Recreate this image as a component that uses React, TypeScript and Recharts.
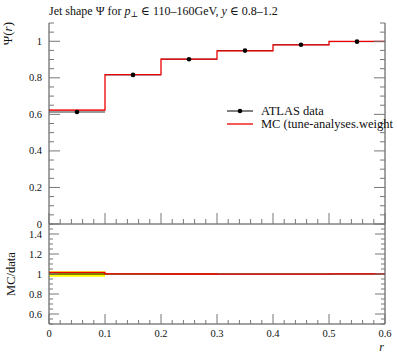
import { ComposedChart, Line, Area, Scatter, ErrorBar, XAxis, YAxis } from "recharts";

// bin edges in r, one jet-shape value per bin
const binEdges = [0, 0.1, 0.2, 0.3, 0.4, 0.5, 0.6];
const binCentres = [0.05, 0.15, 0.25, 0.35, 0.45, 0.55];
const dataValues = [0.613, 0.816, 0.902, 0.949, 0.981, 0.998];
const dataErrors = [0.008, 0.004, 0.003, 0.002, 0.002, 0.001];
const mcValues = [0.623, 0.818, 0.902, 0.948, 0.98, 0.999];
const mcErrors = [0.005, 0.002, 0.002, 0.002, 0.001, 0.001];
const ratioValues = [1.016, 1.002, 1.0, 0.999, 0.999, 1.001];
const ratioBand = [0.028, 0.005, 0.004, 0.003, 0.002, 0.002];

const xMajor = [0, 0.1, 0.2, 0.3, 0.4, 0.5, 0.6];
const mainMajor = [0, 0.2, 0.4, 0.6, 0.8, 1];
const ratioMajor = [0.6, 0.8, 1, 1.2, 1.4];

const W = 397;
const H = 358;
const FONT = "'Liberation Serif', 'DejaVu Serif', serif";
const FRAME = "#444";
const TICK = "#777";

const sub = (lo: number, hi: number, step: number) => {
  const out: number[] = [];
  for (let v = lo; v <= hi + 1e-9; v += step) out.push(Math.round(v * 1000) / 1000);
  return out;
};
const xTicks = sub(0, 0.6, 0.02);
const mainTicks = sub(0, 1.1, 0.05);
const ratioTicks = sub(0.5, 1.5, 0.05);

const isIn = (v: number, list: number[]) => list.some((m) => Math.abs(m - v) < 1e-6);
const fmt = (v: number) => String(Math.round(v * 10) / 10);

// step tables: last edge repeats last bin value
const edgeRows = binEdges.map((r, i) => {
  const k = Math.min(i, mcValues.length - 1);
  return {
    r,
    mc: mcValues[k],
    mcBand: [mcValues[k] - mcErrors[k], mcValues[k] + mcErrors[k]],
    ratio: ratioValues[k],
    one: 1,
    band: [1 - ratioBand[k], 1 + ratioBand[k]],
  };
});
const points = binCentres.map((r, i) => ({ r, y: dataValues[i], ex: 0.05, ey: dataErrors[i] }));

const makeTick =
  (side: "left" | "right" | "top" | "bottom", major: number[], big: number, small: number, labels: boolean) =>
  (p: any) => {
    const v = p.payload.value;
    const m = isIn(v, major);
    const len = m ? big : small;
    let line;
    if (side === "left") line = <line x1={p.x} y1={p.y} x2={p.x + len} y2={p.y} stroke={TICK} />;
    else if (side === "right") line = <line x1={p.x} y1={p.y} x2={p.x - len} y2={p.y} stroke={TICK} />;
    else if (side === "top") line = <line x1={p.x} y1={p.y} x2={p.x} y2={p.y + len} stroke={TICK} />;
    else line = <line x1={p.x} y1={p.y} x2={p.x} y2={p.y - len} stroke={TICK} />;
    return (
      <g>
        {line}
        {labels && m && side === "left" && (
          <text x={p.x - 7} y={p.y + 3.5} textAnchor="end" fontSize={10.5} fontFamily={FONT} fill="#111">
            {fmt(v)}
          </text>
        )}
        {labels && m && side === "bottom" && (
          <text x={p.x} y={p.y + 13} textAnchor="middle" fontSize={10.5} fontFamily={FONT} fill="#111">
            {fmt(v)}
          </text>
        )}
      </g>
    );
  };

const Dot = (p: any) => <circle cx={p.cx} cy={p.cy} r={2.3} fill="#000" />;

const axes = (yDomain: number[], yTicks: number[], yMajor: number[], big: number, small: number, xLabels: boolean) => [
  <XAxis key="xb" xAxisId="b" dataKey="r" type="number" domain={[0, 0.6]} ticks={xTicks} interval={0}
    height={20} tickSize={0} tickMargin={0} tickLine={false} axisLine={{ stroke: FRAME }}
    tick={makeTick("bottom", xMajor, big, small, xLabels)} allowDataOverflow />,
  <XAxis key="xt" xAxisId="t" orientation="top" dataKey="r" type="number" domain={[0, 0.6]} ticks={xTicks} interval={0}
    height={0} tickSize={0} tickMargin={0} tickLine={false} axisLine={{ stroke: FRAME }}
    tick={makeTick("top", xMajor, big, small, false)} allowDataOverflow />,
  <YAxis key="yl" yAxisId="l" type="number" domain={yDomain} ticks={yTicks} interval={0} width={49}
    tickSize={0} tickMargin={0} tickLine={false} axisLine={{ stroke: FRAME }}
    tick={makeTick("left", yMajor, big, small, true)} allowDataOverflow />,
  <YAxis key="yr" yAxisId="r" orientation="right" type="number" domain={yDomain} ticks={yTicks} interval={0} width={12}
    tickSize={0} tickMargin={0} tickLine={false} axisLine={{ stroke: FRAME }}
    tick={makeTick("right", yMajor, big, small, false)} allowDataOverflow />,
];

const abs = { position: "absolute" as const, left: 0, top: 0 };

export default function App() {
  return (
    <div style={{ position: "absolute", left: 0, top: 0, width: W, height: H, background: "#fff" }}>
      <div style={abs}>
        <ComposedChart width={W} height={H} data={edgeRows} margin={{ top: 23, right: 0, bottom: 114, left: 0 }}>
          {axes([0, 1.1], mainTicks, mainMajor, 11, 5, false)}
          <Area xAxisId="b" yAxisId="l" dataKey="mcBand" type="stepAfter" stroke="none" fill="#ff7777"
            fillOpacity={0.6} isAnimationActive={false} />
          <Scatter xAxisId="b" yAxisId="l" data={points} dataKey="y" shape={<Dot />} isAnimationActive={false}>
            <ErrorBar dataKey="ex" direction="x" width={0} stroke="#333" strokeWidth={1} />
            <ErrorBar dataKey="ey" direction="y" width={0} stroke="#000" strokeWidth={1} />
          </Scatter>
          <Line xAxisId="b" yAxisId="l" dataKey="mc" type="stepAfter" stroke="#ee0000" strokeWidth={1.3}
            dot={false} isAnimationActive={false} />
        </ComposedChart>
      </div>
      <div style={abs}>
        <ComposedChart width={W} height={H} data={edgeRows} margin={{ top: 224, right: 0, bottom: 14, left: 0 }}>
          {axes([0.5, 1.5], ratioTicks, ratioMajor, 10, 4, true)}
          <Area xAxisId="b" yAxisId="l" dataKey="band" type="stepAfter" stroke="none" fill="#ffff00"
            fillOpacity={1} isAnimationActive={false} />
          <Line xAxisId="b" yAxisId="l" dataKey="one" type="stepAfter" stroke="#000" strokeWidth={1}
            dot={false} isAnimationActive={false} />
          <Line xAxisId="b" yAxisId="l" dataKey="ratio" type="stepAfter" stroke="#ee0000" strokeWidth={1.3}
            dot={false} isAnimationActive={false} />
        </ComposedChart>
      </div>
      <svg style={abs} width={W} height={H} fontFamily={FONT}>
        <text x={49} y={15} fontSize={12} fill="#111">
          Jet shape Ψ for <tspan fontStyle="italic">p</tspan>
          <tspan fontSize={8} dy={2}>⊥</tspan>
          <tspan dy={-2}> ∈ 110–160GeV, </tspan>
          <tspan fontStyle="italic">y</tspan> ∈ 0.8–1.2
        </text>
        <text transform="translate(12,22) rotate(-90)" textAnchor="end" fontSize={13} fill="#111">
          Ψ(<tspan fontStyle="italic">r</tspan>)
        </text>
        <text transform="translate(15,274) rotate(-90)" textAnchor="middle" fontSize={12.5} fill="#111">
          MC/data
        </text>
        <text x={384} y={351} textAnchor="end" fontSize={12} fontStyle="italic" fill="#111">r</text>
        <line x1={227} y1={111} x2={253} y2={111} stroke="#000" />
        <circle cx={240} cy={111} r={2.3} fill="#000" />
        <text x={261} y={115} fontSize={12.5} fill="#111">ATLAS data</text>
        <line x1={227} y1={124} x2={253} y2={124} stroke="#ee0000" strokeWidth={1.3} />
        <text x={261} y={128} fontSize={12.5} fill="#111">MC (tune-analyses.weight</text>
      </svg>
    </div>
  );
}
